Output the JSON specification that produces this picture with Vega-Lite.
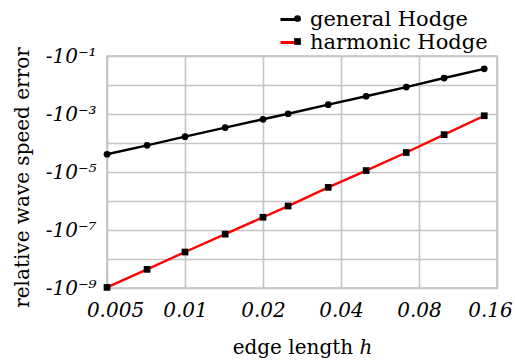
{
  "$schema": "https://vega.github.io/schema/vega-lite/v6.json",
  "width": 390,
  "height": 232,
  "autosize": {"type": "none"},
  "padding": {"left": 107, "top": 56, "right": 18, "bottom": 74},
  "background": "white",
  "config": {
    "font": "DejaVu Serif",
    "view": {"stroke": "#c4c4c4", "strokeWidth": 1.6},
    "axis": {
      "grid": true,
      "gridColor": "#c4c4c4",
      "gridWidth": 1.6,
      "gridOpacity": 1,
      "domain": false,
      "ticks": false,
      "labelFont": "DejaVu Serif",
      "labelFontStyle": "italic",
      "labelFontSize": 20,
      "labelColor": "#000000",
      "titleFont": "DejaVu Serif",
      "titleFontWeight": "normal",
      "titleFontSize": 20,
      "titleColor": "#000000"
    },
    "legend": {
      "labelFont": "DejaVu Serif",
      "labelFontSize": 21,
      "labelColor": "#000000",
      "labelLimit": 0
    }
  },
  "data": {
    "values": [
      {"h": 0.005, "error": 4.1e-5, "method": "general Hodge"},
      {"h": 0.00714, "error": 8.3e-5, "method": "general Hodge"},
      {"h": 0.01, "error": 1.65e-4, "method": "general Hodge"},
      {"h": 0.01429, "error": 3.4e-4, "method": "general Hodge"},
      {"h": 0.02, "error": 6.6e-4, "method": "general Hodge"},
      {"h": 0.025, "error": 1.02e-3, "method": "general Hodge"},
      {"h": 0.03571, "error": 2.1e-3, "method": "general Hodge"},
      {"h": 0.05, "error": 4.1e-3, "method": "general Hodge"},
      {"h": 0.07143, "error": 8.5e-3, "method": "general Hodge"},
      {"h": 0.1, "error": 1.74e-2, "method": "general Hodge"},
      {"h": 0.14286, "error": 3.6e-2, "method": "general Hodge"},
      {"h": 0.005, "error": 1.05e-9, "method": "harmonic Hodge"},
      {"h": 0.00714, "error": 4.4e-9, "method": "harmonic Hodge"},
      {"h": 0.01, "error": 1.74e-8, "method": "harmonic Hodge"},
      {"h": 0.01429, "error": 7.2e-8, "method": "harmonic Hodge"},
      {"h": 0.02, "error": 2.75e-7, "method": "harmonic Hodge"},
      {"h": 0.025, "error": 6.7e-7, "method": "harmonic Hodge"},
      {"h": 0.03571, "error": 2.95e-6, "method": "harmonic Hodge"},
      {"h": 0.05, "error": 1.12e-5, "method": "harmonic Hodge"},
      {"h": 0.07143, "error": 4.7e-5, "method": "harmonic Hodge"},
      {"h": 0.1, "error": 1.94e-4, "method": "harmonic Hodge"},
      {"h": 0.14286, "error": 8.7e-4, "method": "harmonic Hodge"}
    ]
  },
  "encoding": {
    "x": {
      "field": "h",
      "type": "quantitative",
      "scale": {"type": "log", "domain": [0.005, 0.16], "nice": false},
      "axis": {
        "values": [0.005, 0.01, 0.02, 0.04, 0.08, 0.16],
        "labelExpr": "format(datum.value, '~g')",
        "labelFlush": false,
        "labelOverlap": false,
        "labelPadding": 12,
        "labelOffset": {
          "condition": [
            {"test": "datum.value < 0.006", "value": 8},
            {"test": "datum.value > 0.15", "value": -7}
          ],
          "value": 0
        },
        "title": "edge length ℎ",
        "titlePadding": 17
      }
    },
    "y": {
      "field": "error",
      "type": "quantitative",
      "scale": {"type": "log", "domain": [1e-9, 0.1], "nice": false},
      "axis": {
        "values": [1e-9, 1e-8, 1e-7, 1e-6, 1e-5, 1e-4, 1e-3, 1e-2, 1e-1],
        "labelExpr": "round(log(datum.value)/LN10) == -1 ? '-10⁻¹' : round(log(datum.value)/LN10) == -3 ? '-10⁻³' : round(log(datum.value)/LN10) == -5 ? '-10⁻⁵' : round(log(datum.value)/LN10) == -7 ? '-10⁻⁷' : round(log(datum.value)/LN10) == -9 ? '-10⁻⁹' : ''",
        "labelOverlap": false,
        "labelPadding": 11,
        "title": "relative wave speed error",
        "titlePadding": 13,
        "titleY": 121
      }
    }
  },
  "layer": [
    {
      "mark": {"type": "line", "strokeWidth": 2.4},
      "encoding": {
        "color": {
          "field": "method",
          "type": "nominal",
          "scale": {"range": ["#000000", "#ff0000"]},
          "legend": {
            "orient": "none",
            "legendX": 172,
            "legendY": -48,
            "title": null,
            "symbolType": "stroke",
            "symbolSize": 400,
            "symbolStrokeWidth": 3,
            "labelOffset": 8,
            "rowPadding": 1
          }
        }
      }
    },
    {
      "mark": {"type": "point", "filled": true, "opacity": 1, "color": "#000000"},
      "encoding": {
        "shape": {
          "field": "method",
          "type": "nominal",
          "scale": {"domain": ["general Hodge", "harmonic Hodge"], "range": ["circle", "square"]},
          "legend": {
            "orient": "none",
            "legendX": 180,
            "legendY": -48,
            "title": null,
            "symbolSize": 45,
            "symbolFillColor": "#000000",
            "symbolStrokeWidth": 0,
            "labelExpr": "''",
            "labelOffset": 0,
            "rowPadding": 1
          }
        },
        "size": {"value": 45}
      }
    }
  ]
}
